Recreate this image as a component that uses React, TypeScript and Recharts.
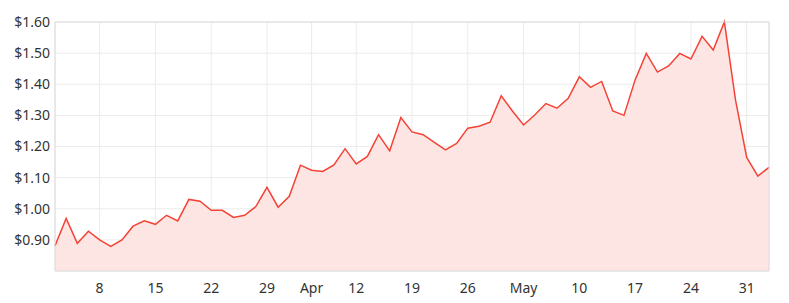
import {
  AreaChart,
  Area,
  XAxis,
  YAxis,
  CartesianGrid,
  ReferenceArea,
} from 'recharts';

// one value per trading day
const prices = [
  0.881, 0.969, 0.889, 0.928, 0.9, 0.879, 0.9, 0.944, 0.961, 0.95,
  0.979, 0.961, 1.03, 1.024, 0.995, 0.995, 0.972, 0.979, 1.007, 1.069,
  1.005, 1.04, 1.14, 1.124, 1.12, 1.141, 1.193, 1.144, 1.168, 1.238,
  1.186, 1.293, 1.247, 1.238, 1.213, 1.189, 1.21, 1.259, 1.265, 1.278,
  1.363, 1.314, 1.269, 1.301, 1.338, 1.323, 1.355, 1.424, 1.39, 1.409,
  1.314, 1.3, 1.414, 1.499, 1.439, 1.459, 1.499, 1.481, 1.554, 1.51,
  1.6, 1.349, 1.165, 1.105, 1.133,
];

// x tick positions (index into prices) and their labels
const tickIndexes = [4, 9, 14, 19, 23, 27, 32, 37, 42, 47, 52, 57, 62];
const tickLabels = ['8', '15', '22', '29', 'Apr', '12', '19', '26', 'May', '10', '17', '24', '31'];

const priceTicks = [0.9, 1.0, 1.1, 1.2, 1.3, 1.4, 1.5, 1.6];

const data = prices.map((price, i) => ({ i, price }));

const labelFor = (v: number) => {
  const k = tickIndexes.indexOf(v);
  return k >= 0 ? tickLabels[k] : '';
};

export default function App() {
  const tickStyle = { fill: '#333', fontSize: 14, fontFamily: 'Noto Sans' };

  return (
    <div style={{ position: 'absolute', left: 0, top: 0 }}>
      <AreaChart
        width={789}
        height={303}
        data={data}
        margin={{ top: 22, right: 20, bottom: 2, left: 0 }}
      >
        <CartesianGrid stroke="#ebebeb" />
        <XAxis
          dataKey="i"
          type="number"
          domain={[0, prices.length - 1]}
          ticks={tickIndexes}
          tickFormatter={labelFor}
          tick={tickStyle}
          axisLine={false}
          tickLine={false}
          tickSize={0}
          tickMargin={12}
          height={30}
        />
        <YAxis
          domain={[0.8, 1.6]}
          ticks={priceTicks}
          tickFormatter={(v: number) => `$${v.toFixed(2)}`}
          tick={tickStyle}
          axisLine={false}
          tickLine={false}
          tickSize={0}
          tickMargin={5}
          width={55}
        />
        <Area
          type="linear"
          dataKey="price"
          stroke="#f44336"
          strokeWidth={1.5}
          fill="#fde5e3"
          fillOpacity={1}
          dot={false}
          activeDot={false}
          isAnimationActive={false}
        />
        <ReferenceArea
          x1={0}
          x2={prices.length - 1}
          y1={0.8}
          y2={1.6}
          fill="none"
          stroke="#dcdcdc"
          ifOverflow="visible"
        />
      </AreaChart>
    </div>
  );
}
